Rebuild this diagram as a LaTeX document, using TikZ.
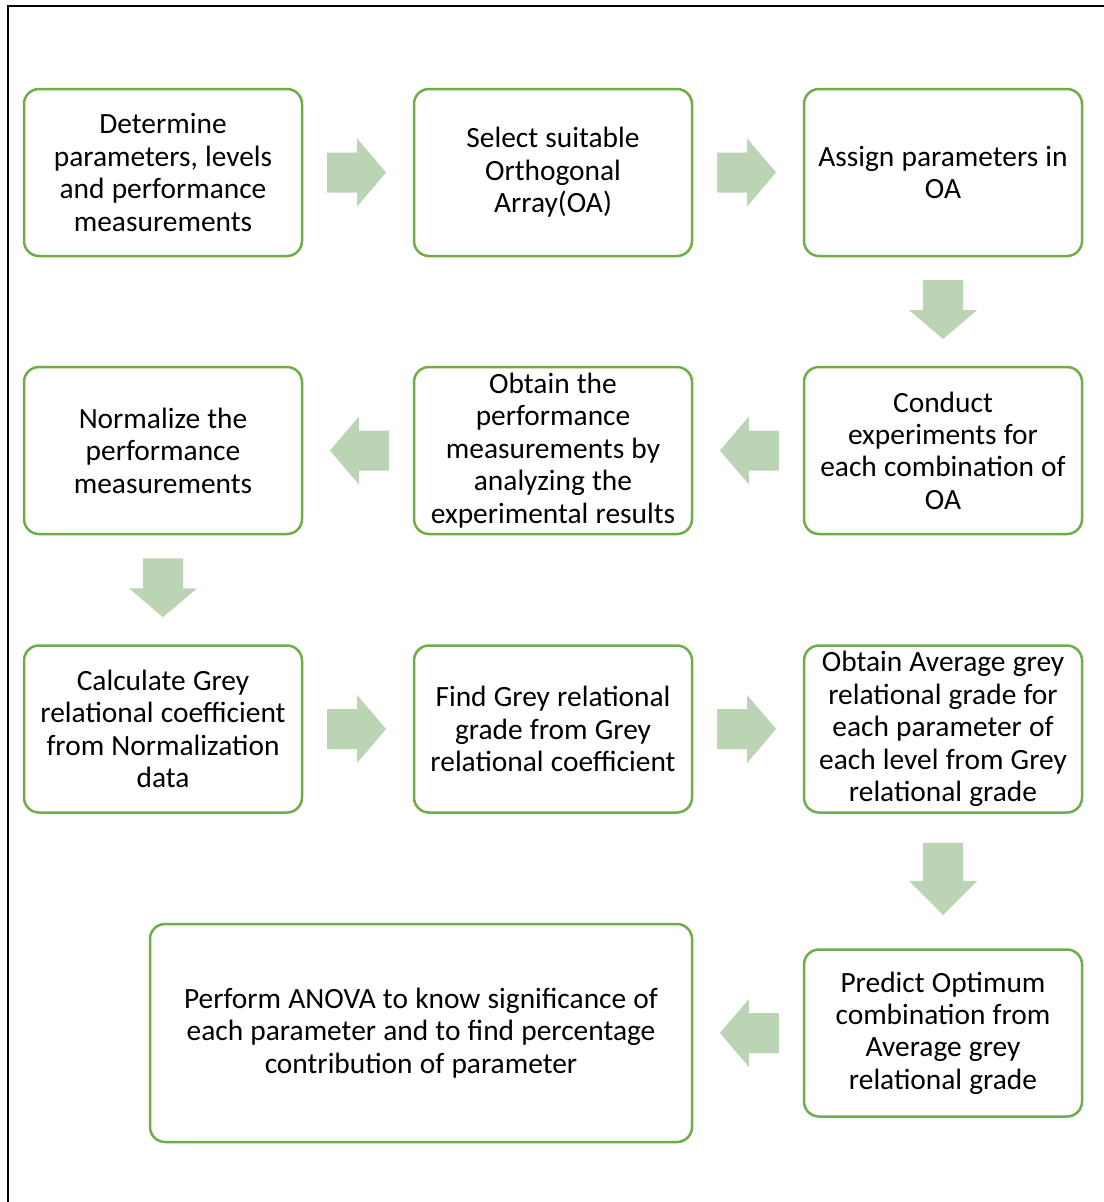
\documentclass[tikz,border=0pt]{standalone}
\usepackage{fontspec}
\setmainfont{Carlito}
\definecolor{boxgreen}{RGB}{112,173,71}
\definecolor{arrowfill}{RGB}{187,213,180}
\tikzset{
  stepbox/.style={draw=boxgreen, line width=2.5pt, rounded corners=15pt, fill=white,
    minimum width=278pt, minimum height=167pt, text width=268pt, align=center,
    inner sep=0pt, font=\fontsize{29.4}{32.4}\selectfont,
    execute at begin node={\spaceskip=0.245em\relax}},
  pics/barrow/.style args={#1/#2}{code={
    \fill[arrowfill] ({-#1/2},-20) -- ({#1/2-#2},-20) -- ({#1/2-#2},-34) -- ({#1/2},0)
      -- ({#1/2-#2},34) -- ({#1/2-#2},20) -- ({-#1/2},20) -- cycle;}}
}
\begin{document}
\begin{tikzpicture}[x=1pt,y=-1pt]
\useasboundingbox (0,0) rectangle (1103,1202);
\fill[white] (0,0) rectangle (1103,1202);
% frame
\draw[line width=2.2pt, line cap=rect] (8,1202) -- (8,6) -- (1103,6);
% row 1
\node[stepbox] (b1) at (163,172.5) {Determine\\parameters, levels\\and performance\\measurements};
\node[stepbox] (b2) at (553,172.5) {Select suitable\\Orthogonal\\Array(OA)};
\node[stepbox] (b3) at (943,172.5) {Assign parameters in\\OA};
% row 2
\node[stepbox] (b4) at (943,450.5) {Conduct\\experiments for\\each combination of\\OA};
\node[stepbox] (b5) at (553,450.5) {Obtain the\\performance\\measurements by\\analyzing the\\experimental results};
\node[stepbox] (b6) at (163,450.5) {Normalize the\\performance\\measurements};
% row 3
\node[stepbox] (b7) at (163,729) {Calculate Grey\\relational coefficient\\from Normalization\\data};
\node[stepbox] (b8) at (553,729) {Find Grey relational\\grade from Grey\\relational coefficient};
\node[stepbox] (b9) at (943,729) {Obtain Average grey\\relational grade for\\each parameter of\\each level from Grey\\relational grade};
% row 4
\node[stepbox] (b10) at (943,1033) {Predict Optimum\\combination from\\Average grey\\relational grade};
\node[stepbox, minimum width=542pt, minimum height=218pt, text width=520pt] (b11) at (421,1033)
  {Perform ANOVA to know significance of\\each parameter and to find percentage\\contribution of parameter};
% connector positions
\path (b1.east) -- (b2.west) coordinate[pos=0.487] (a12);
\path (b2.east) -- (b3.west) coordinate[pos=0.487] (a23);
\path (b3.south) -- (b4.north) coordinate[pos=0.482] (a34);
\path (b4.west) -- (b5.east) coordinate[pos=0.487] (a45);
\path (b5.west) -- (b6.east) coordinate[pos=0.487] (a56);
\path (b6.south) -- (b7.north) coordinate[pos=0.482] (a67);
\path (b7.east) -- (b8.west) coordinate[pos=0.487] (a78);
\path (b8.east) -- (b9.west) coordinate[pos=0.487] (a89);
\path (b9.south) -- (b10.north) coordinate[pos=0.485] (a910);
\path (b10.west) -- (b11.east) coordinate[pos=0.487] (a1011);
% block arrows
\pic at (a12) {barrow={59/29}};
\pic at (a23) {barrow={59/29}};
\pic[rotate=-90] at (a34) {barrow={59/29}};
\pic[rotate=180] at (a45) {barrow={59/29}};
\pic[rotate=180] at (a56) {barrow={59/29}};
\pic[rotate=-90] at (a67) {barrow={59/29}};
\pic at (a78) {barrow={59/29}};
\pic at (a89) {barrow={59/29}};
\pic[rotate=-90] at (a910) {barrow={72/34}};
\pic[rotate=180] at (a1011) {barrow={59/29}};
\end{tikzpicture}
\end{document}
